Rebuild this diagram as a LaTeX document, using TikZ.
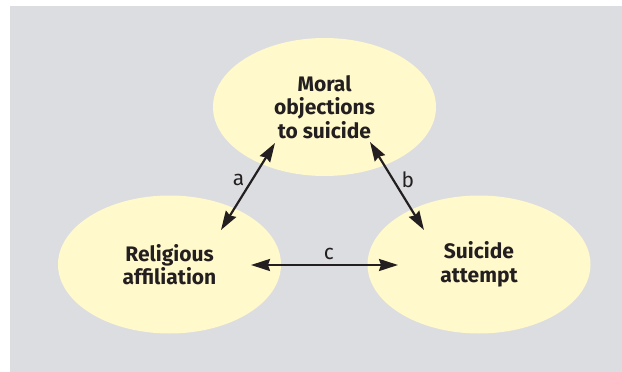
\documentclass[tikz,border=0pt]{standalone}
\usepackage{fontspec}
\setmainfont{Fira Sans}
\usetikzlibrary{arrows.meta,shapes.geometric,positioning}

\definecolor{panelgray}{RGB}{220,221,224}
\definecolor{paleyellow}{RGB}{255,249,204}
\definecolor{inkgray}{RGB}{35,31,32}

\begin{document}
\begin{tikzpicture}[x=1pt,y=-1pt]
\tikzstyle{factor} = [ellipse, fill=paleyellow, minimum width=223pt, minimum height=138pt,
inner sep=0pt, text=inkgray, align=center, font=\bfseries\fontsize{21}{23.5}\selectfont]
\tikzstyle{link} = [draw=inkgray, line width=2.2pt, {Stealth[length=19pt,width=12pt,inset=2pt]}-{Stealth[length=19pt,width=12pt,inset=2pt]}]
\tikzstyle{tag} = [text=inkgray, font=\fontsize{21}{24}\selectfont]

\useasboundingbox (0,0) rectangle (622,372);
\fill [panelgray] (10,6) rectangle (622,372);

% the three factors
\node [factor] (moral) at (324.5,107) {Moral\\objections\\to suicide};
\node [factor] (religion) at (169.5,264.5) {Religious\\affiliation};
\node [factor] (attempt) at (479,264.5) {Suicide\\attempt};

% arrow ends
\coordinate (aTop) at ([shift={(-49.5,36)}]moral.center);
\coordinate (aBot) at ([shift={(51.5,-34.5)}]religion.center);
\coordinate (bTop) at ([shift={(45.5,35)}]moral.center);
\coordinate (bBot) at ([shift={(-55,-34.5)}]attempt.center);
\coordinate (cLeft) at ([shift={(81.5,0.5)}]religion.center);
\coordinate (cRight) at ([shift={(-81,0.5)}]attempt.center);

\path [link] (aTop) -- node [tag, pos=0.43, left=3pt] {a} (aBot);
\path [link] (bTop) -- node [tag, pos=0.43, right=4pt] {b} (bBot);
\path [link] (cLeft) -- node [tag, pos=0.53, above=1pt] {c} (cRight);

\end{tikzpicture}
\end{document}
